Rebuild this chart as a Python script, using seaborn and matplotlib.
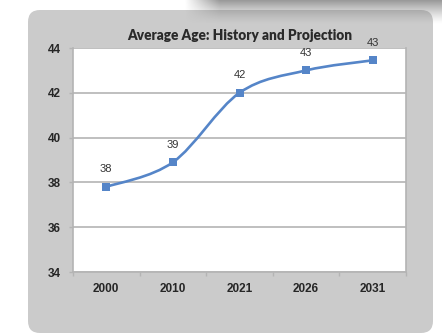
import numpy as np
import pandas as pd
import seaborn as sns
import matplotlib
matplotlib.use("Agg")
import matplotlib.pyplot as plt
from matplotlib.patches import FancyBboxPatch, PathPatch
from matplotlib.path import Path

# Average age: history and projection
years = ["2000", "2010", "2021", "2026", "2031"]
ages = [37.8, 38.9, 42.0, 43.0, 43.45]
y_ticks = [34, 36, 38, 40, 42, 44]
title = "Average Age: History and Projection"

sns.set_theme(style="white")
plt.rcParams["font.family"] = ["Liberation Sans", "DejaVu Sans"]

W, H = 442, 335
fig = plt.figure(figsize=(W / 100, H / 100), dpi=100)
fig.patch.set_facecolor("white")

# background layer in pixel coordinates: rounded grey card with a soft shadow on top
bg = fig.add_axes([0, 0, 1, 1])
bg.set_xlim(0, W)
bg.set_ylim(H, 0)
bg.axis("off")

gx = np.linspace(0, W, W)
gy = np.linspace(0, 45, 45)
GX, GY = np.meshgrid(gx, gy)
alpha_x = np.clip((GX - 185) / 35, 0, 1)
alpha_y = np.clip(1 - GY / 24, 0, 1) ** 1.3
shadow = np.zeros((len(gy), len(gx), 4))
shadow[..., :3] = 0.45
shadow[..., 3] = alpha_x * alpha_y * 0.72

card = FancyBboxPatch((38, 20), 385, 303, boxstyle="round,pad=10,rounding_size=12",
                      facecolor="#cbcbcb", edgecolor="none", zorder=1)
bg.add_patch(card)
bg.imshow(shadow, extent=(0, W, 45, 0), zorder=2, aspect="auto", interpolation="bilinear")
bg.set_xlim(0, W)
bg.set_ylim(H, 0)

# chart area
ax = fig.add_axes([73 / W, 1 - 272 / H, (406 - 73) / W, (272 - 48) / H])
ax.set_facecolor("white")

line_color = "#5585c8"
xs = np.arange(len(years))

# smoothed connecting curve (cubic Bezier segments through the points)
pts = np.column_stack([xs, ages]).astype(float)
ext = np.vstack([pts[0], pts, pts[-1]])
verts = [tuple(pts[0])]
codes = [Path.MOVETO]
for i in range(len(pts) - 1):
    p0, p1, p2, p3 = ext[i], ext[i + 1], ext[i + 2], ext[i + 3]
    c1 = p1 + (p2 - p0) / 6
    c2 = p2 - (p3 - p1) / 6
    verts += [tuple(c1), tuple(c2), tuple(p2)]
    codes += [Path.CURVE4] * 3
ax.add_patch(PathPatch(Path(verts, codes), facecolor="none", edgecolor=line_color,
                       lw=1.9, zorder=3))

df = pd.DataFrame({"year": years, "age": ages})
sns.scatterplot(data=df, x="year", y="age", marker="s", s=40, color=line_color,
                edgecolor=line_color, linewidth=0, ax=ax, zorder=4)

for x, v in zip(xs, ages):
    ax.annotate(f"{v:.0f}", (x, v), xytext=(0, 9), textcoords="offset points",
                ha="center", va="bottom", fontsize=8, color="#333333")

ax.set_xlim(-0.5, len(years) - 0.5)
ax.set_ylim(34, 44)
ax.set_yticks(y_ticks)
ax.set_xticks(xs)
ax.set_xticklabels(years)
ax.set_xticks(np.arange(-0.5, len(years), 1.0), minor=True)
ax.set_xlabel("")
ax.set_ylabel("")

ax.grid(axis="y", color="#b4b4b4", lw=1.2)
ax.set_axisbelow(True)
for side in ["left", "right", "bottom"]:
    ax.spines[side].set_visible(True)
    ax.spines[side].set_color("#b4b4b4")
    ax.spines[side].set_linewidth(1.2)
ax.spines["top"].set_visible(False)

ax.tick_params(axis="x", which="major", length=0, pad=8, labelsize=8.5, colors="#262626")
ax.tick_params(axis="x", which="minor", length=3, width=1, color="#b4b4b4", bottom=True)
ax.tick_params(axis="y", length=3, width=1, color="#b4b4b4", pad=6, labelsize=8.5,
               colors="#262626", left=True)
for lab in ax.get_xticklabels() + ax.get_yticklabels():
    lab.set_fontweight("bold")

ax.set_title(title, fontsize=9.8, fontweight="heavy", color="#2a2a2a", pad=6,
             family=["Lato", "DejaVu Sans"])

fig.savefig("out.png", dpi=100)
